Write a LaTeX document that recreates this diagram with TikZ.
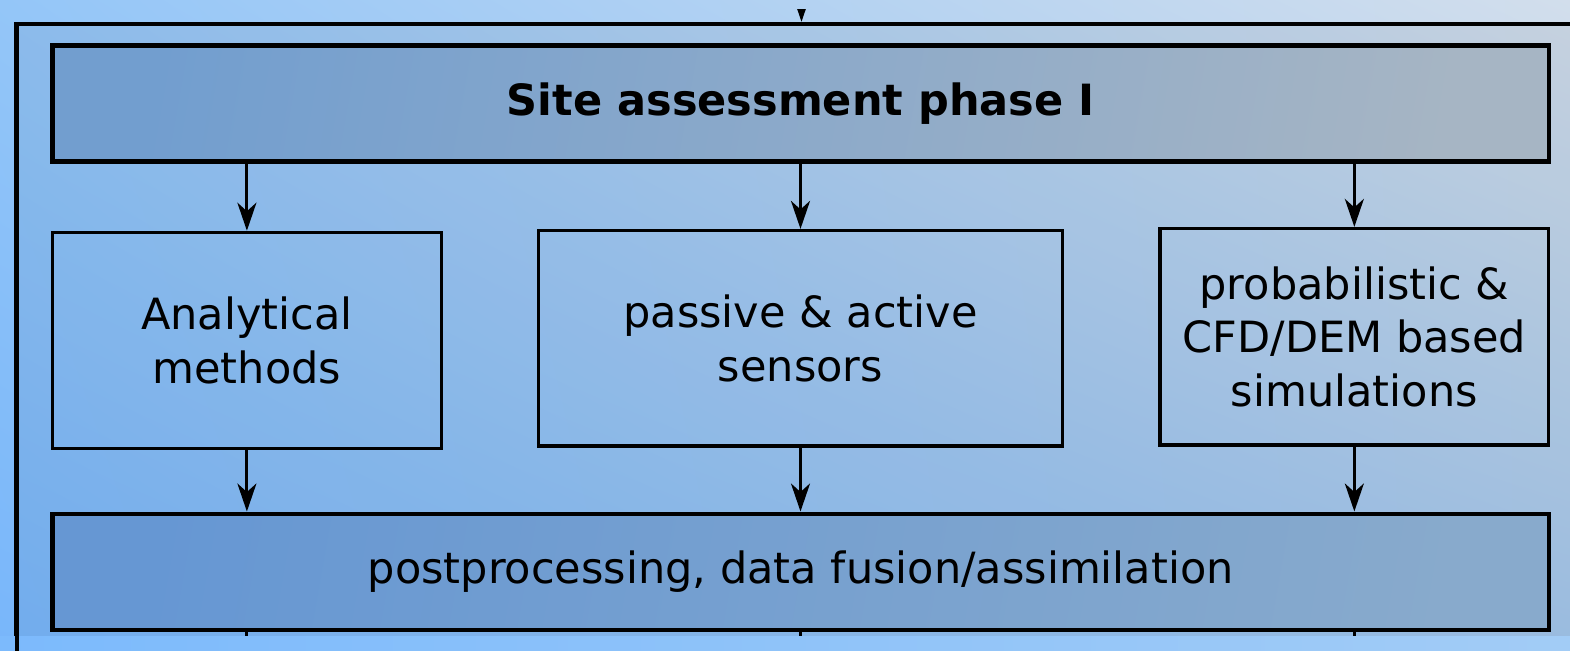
\documentclass[tikz,border=0pt]{standalone}
\usepackage{fontspec}
\setmainfont{DejaVu Sans}
\usetikzlibrary{arrows.meta,shadings}

\definecolor{bgUL}{HTML}{94C6F8}
\definecolor{bgUR}{HTML}{D2DEEC}
\definecolor{bgLL}{HTML}{78B6FA}
\definecolor{bgLR}{HTML}{A2C6EC}
\definecolor{topL}{HTML}{729ECF}
\definecolor{topR}{HTML}{A6B5C4}
\definecolor{botL}{HTML}{6697D3}
\definecolor{botR}{HTML}{88AACC}
\definecolor{stripL}{HTML}{7CBAFC}
\definecolor{stripR}{HTML}{A2CCF6}

\tikzset{
  backdrop/.style={upper left=bgUL, upper right=bgUR, lower left=bgLL, lower right=bgLR},
  wide/.style={draw=black, line width=4.5*0.02cm, inner sep=0pt,
    minimum width=1496.5*0.02cm, minimum height=116*0.02cm, align=center},
  midbox/.style={draw=black, line width=3.2*0.02cm, inner sep=0pt, align=center},
  flow/.style={line width=3*0.02cm, -{Stealth[length=0.56cm, width=0.38cm, inset=0.17cm]}},
  stub/.style={line width=3*0.02cm},
  frameline/.style={line width=4.5*0.02cm, line cap=rect},
}

\begin{document}
\begin{tikzpicture}[x=0.02cm, y=-0.02cm, font=\fontsize{24.5pt}{30.4pt}\selectfont]
  \useasboundingbox (0,0) rectangle (1570,650);
  \clip (0,0) rectangle (1570,650);

  % background
  \shade[backdrop] (0,0) rectangle (1570,650);

  % enclosing frame, running past the right and lower edges
  \fill[black, opacity=0.05] (16.5,24) rectangle (1640,700);
  \draw[frameline] (16.5,700) |- (1640,24);
  \coordinate (ftop) at (801.5,21.75);
  \coordinate (fin) at (801.5,-40);

  % boxes
  \node[wide, font=\fontsize{24.5pt}{30.4pt}\selectfont\bfseries,
        left color=topL, right color=topR, shading angle=80]
        (top) at (800.75,103.5) {Site assessment phase I};
  \node[midbox, minimum width=388.8*0.02cm, minimum height=216*0.02cm]
        (ana) at (246.9,340.3) {Analytical\\methods};
  \node[midbox, minimum width=524.4*0.02cm, minimum height=215.5*0.02cm]
        (pas) at (800.5,338.25) {passive \& active\\sensors};
  \node[midbox, minimum width=388.7*0.02cm, minimum height=216.5*0.02cm]
        (prob) at (1354.35,336.75) {probabilistic \&\\CFD/DEM based\\simulations};
  \node[wide, left color=botL, right color=botR, shading angle=80]
        (post) at (800.75,571.75) {postprocessing, data fusion/assimilation};

  % connectors
  \draw[flow] (fin) -- (ftop);
  \foreach \n in {ana,pas,prob}{
    \draw[flow] (top.south -| \n.north) -- (\n.north);
    \draw[flow] (\n.south) -- (post.north -| \n.south);
  }
  \coordinate (ea) at (246.9,660);
  \coordinate (ep) at (800.5,660);
  \coordinate (er) at (1354.35,660);
  \draw[stub] (post.south -| ea) -- (ea);
  \draw[stub] (post.south -| ep) -- (ep);
  \draw[stub] (post.south -| er) -- (er);

  % the upper edge shows only the point of the incoming arrow
  \begin{scope}
    \clip (0,0) rectangle (1570,8);
    \shade[backdrop] (0,0) rectangle (1570,650);
  \end{scope}

  % lighter strip along the lower edge
  \shade[left color=stripL, right color=stripR] (0,636) rectangle (1570,650);
  \coordinate (fl1) at (16.8,636);
  \coordinate (fl2) at (16.8,660);
  \draw[line width=4.5*0.02cm] (fl1) -- (fl2);
\end{tikzpicture}
\end{document}
